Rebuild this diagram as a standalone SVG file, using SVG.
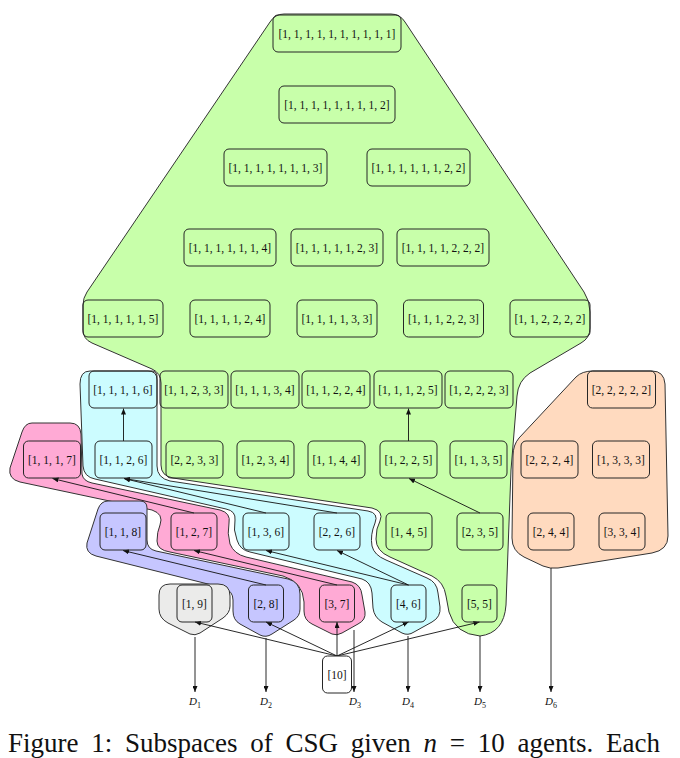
<svg xmlns="http://www.w3.org/2000/svg" width="680" height="758" viewBox="0 0 680 758">
<style>
.hull{stroke:#333;stroke-width:1;stroke-linejoin:round}
.g{fill:#c8ffaa}.c{fill:#ccfcff}.p{fill:#ffaad5}.b{fill:#c6c6ff}.o{fill:#ffdabf}.y{fill:#ebebea}
.n rect{fill:none;stroke:#262626;stroke-width:1}
.n text{font-family:"Liberation Serif","Times New Roman",serif;font-size:11.5px;text-anchor:middle;fill:#111}
.e path{fill:none;stroke:#111;stroke-width:0.9;marker-end:url(#ah)}
.d{font-family:"Liberation Serif","Times New Roman",serif;font-size:11px;font-style:italic;text-anchor:middle;fill:#111}
.d tspan{font-size:8px;font-style:normal}
.cap{font-family:"Liberation Serif","Times New Roman",serif;font-size:27px;fill:#111;word-spacing:6px}
</style>
<defs>
<marker id="ah" viewBox="0 0 6 5" refX="6" refY="2.5" markerWidth="6" markerHeight="5" markerUnits="userSpaceOnUse" orient="auto"><path d="M0,0 L6,2.5 L0,5 z" fill="#111"/></marker>
</defs>
<g id="hulls">
<path id="hull-green" class="hull g" d="M284,14 L391,14 Q400,14 405,22 L584,292 Q590,301 590,312 L590,328 Q590,338 581,343 L530,373 Q518,381 517,396 L511,470 L508,550 L506,605 Q504,633 480,636 Q455,634 449,612 L446,596 Q444,582 432,576 L390,557 Q376,551 376,539 Q376,528 380,521 Q384,511 372,508 L173,478 Q161,476 161,465 L161,383 Q161,373 152,369 L92,343 Q83,339 83,330 L83,305 Q83,298 87,292 L270,22 Q275,14 284,14 Z"/>
<path id="hull-peach" class="hull o" d="M593,371 L652,371 Q664,371 665,384 L668,536 Q668,550 652,553 L558,568 Q550,569 543,566 L524,557 Q512,551 512,538 L513,456 Q513,445 519,438 L576,377 Q582,371 593,371 Z"/>
<path id="hull-cyan" class="hull c" d="M90,371 L148,371 Q157,371 157,380 L157,466 Q157,478 170,481 L368,511 Q379,513 375,523 Q370,535 372,546 Q374,555 386,560 L427,578 Q437,582 438,593 L440,607 Q441,617 432,622 L414,632 Q408,636 402,633 L382,622 Q374,617 373,608 L372,593 Q371,582 362,579 L250,552 Q240,550 237,540 Q233,530 235,520 Q236,511 226,509 L95,479 Q84,477 83,466 L80,384 Q80,371 90,371 Z"/>
<path id="hull-pink" class="hull p" d="M32,423 L70,423 Q80,423 81,434 L82,474 Q83,481 92,483 L220,510 Q231,513 229,523 Q227,533 230,544 Q234,554 246,557 L352,582 Q361,585 362,595 L365,612 Q366,620 358,624 L342,633 Q337,636 332,634 L312,624 Q304,620 304,611 L304,602 Q303,582 283,576 L170,552 Q157,550 157,541 Q157,532 160,525 Q164,514 152,510 L20,482 Q8,479 10,468 L22,432 Q25,423 32,423 Z"/>
<path id="hull-blue" class="hull b" d="M108,501 L140,501 Q147,501 147,508 L147,540 Q147,549 156,551 L288,579 Q300,582 300,594 L300,609 Q300,616 294,620 L272,634 Q266,638 260,635 L240,624 Q233,620 233,611 L233,600 Q233,591 224,588 L96,556 Q85,553 87,543 L98,509 Q101,501 108,501 Z"/>
<path id="hull-gray" class="hull y" d="M170,584 L218,584 Q230,584 230,596 L230,606 Q230,613 223,618 L200,633 Q195,636 190,634 L168,623 Q159,618 159,609 L159,595 Q159,584 170,584 Z"/>
</g>
<g id="edges" class="e">
<path d="M123.5,441 L123.5,408.5"/>
<path d="M408.5,441 L408.5,408.5"/>
<path d="M480,513 L409,478.5"/>
<path d="M194,513 L52.5,478.5"/>
<path d="M266,513 L124,478.5"/>
<path d="M337,513 L124,478.5"/>
<path d="M266,585 L123,550.5"/>
<path d="M337,585 L194,550.5"/>
<path d="M408.5,585 L266,550.5"/>
<path d="M408.5,585 L337,550.5"/>
<path d="M337,656 L195,622"/>
<path d="M337,656 L266,622"/>
<path d="M337,656 L337,622"/>
<path d="M337,656 L408.5,622"/>
<path d="M337,656 L479.5,622"/>
<path d="M195,637 L195,692"/>
<path d="M266,638 L266,692"/>
<path d="M354,630 L354,692"/>
<path d="M408,636 L408,692"/>
<path d="M480,636 L480,692"/>
<path d="M551,568 L551,692"/>
</g>
<g id="nodes">
<g id="n1111111111" class="n"><rect x="273" y="15" width="128" height="37" rx="5"/><text x="337" y="37.5">[1, 1, 1, 1, 1, 1, 1, 1, 1, 1]</text></g>
<g id="n111111112" class="n"><rect x="279" y="86" width="116" height="37" rx="5"/><text x="337" y="108.5">[1, 1, 1, 1, 1, 1, 1, 1, 2]</text></g>
<g id="n11111113" class="n"><rect x="224" y="149" width="103" height="37" rx="5"/><text x="275.5" y="171.5">[1, 1, 1, 1, 1, 1, 1, 3]</text></g>
<g id="n11111122" class="n"><rect x="367" y="149" width="103" height="37" rx="5"/><text x="418.5" y="171.5">[1, 1, 1, 1, 1, 1, 2, 2]</text></g>
<g id="n1111114" class="n"><rect x="184" y="229" width="92" height="37" rx="5"/><text x="230" y="251.5">[1, 1, 1, 1, 1, 1, 4]</text></g>
<g id="n1111123" class="n"><rect x="291" y="229" width="92" height="37" rx="5"/><text x="337" y="251.5">[1, 1, 1, 1, 1, 2, 3]</text></g>
<g id="n1111222" class="n"><rect x="397" y="229" width="92" height="37" rx="5"/><text x="443" y="251.5">[1, 1, 1, 1, 2, 2, 2]</text></g>
<g id="n111115" class="n"><rect x="83" y="300" width="80" height="37" rx="5"/><text x="123" y="322.5">[1, 1, 1, 1, 1, 5]</text></g>
<g id="n111124" class="n"><rect x="190" y="300" width="80" height="37" rx="5"/><text x="230" y="322.5">[1, 1, 1, 1, 2, 4]</text></g>
<g id="n111133" class="n"><rect x="297" y="300" width="80" height="37" rx="5"/><text x="337" y="322.5">[1, 1, 1, 1, 3, 3]</text></g>
<g id="n111223" class="n"><rect x="403.5" y="300" width="80" height="37" rx="5"/><text x="443.5" y="322.5">[1, 1, 1, 2, 2, 3]</text></g>
<g id="n112222" class="n"><rect x="510" y="300" width="80" height="37" rx="5"/><text x="550" y="322.5">[1, 1, 2, 2, 2, 2]</text></g>
<g id="n11116" class="n"><rect x="89" y="371" width="68" height="37" rx="5"/><text x="123" y="393.5">[1, 1, 1, 1, 6]</text></g>
<g id="n11233" class="n"><rect x="160" y="371" width="68" height="37" rx="5"/><text x="194" y="393.5">[1, 1, 2, 3, 3]</text></g>
<g id="n11134" class="n"><rect x="231" y="371" width="68" height="37" rx="5"/><text x="265" y="393.5">[1, 1, 1, 3, 4]</text></g>
<g id="n11224" class="n"><rect x="302" y="371" width="68" height="37" rx="5"/><text x="336" y="393.5">[1, 1, 2, 2, 4]</text></g>
<g id="n11125" class="n"><rect x="374" y="371" width="68" height="37" rx="5"/><text x="408" y="393.5">[1, 1, 1, 2, 5]</text></g>
<g id="n12223" class="n"><rect x="445" y="371" width="68" height="37" rx="5"/><text x="479" y="393.5">[1, 2, 2, 2, 3]</text></g>
<g id="n22222" class="n"><rect x="587.5" y="371" width="68" height="37" rx="5"/><text x="621.5" y="393.5">[2, 2, 2, 2, 2]</text></g>
<g id="n1117" class="n"><rect x="23.5" y="441" width="57" height="37" rx="5"/><text x="52" y="463.5">[1, 1, 1, 7]</text></g>
<g id="n1126" class="n"><rect x="95" y="441" width="57" height="37" rx="5"/><text x="123.5" y="463.5">[1, 1, 2, 6]</text></g>
<g id="n2233" class="n"><rect x="166" y="441" width="57" height="37" rx="5"/><text x="194.5" y="463.5">[2, 2, 3, 3]</text></g>
<g id="n1234" class="n"><rect x="237" y="441" width="57" height="37" rx="5"/><text x="265.5" y="463.5">[1, 2, 3, 4]</text></g>
<g id="n1144" class="n"><rect x="308" y="441" width="57" height="37" rx="5"/><text x="336.5" y="463.5">[1, 1, 4, 4]</text></g>
<g id="n1225" class="n"><rect x="380" y="441" width="57" height="37" rx="5"/><text x="408.5" y="463.5">[1, 2, 2, 5]</text></g>
<g id="n1135" class="n"><rect x="450" y="441" width="57" height="37" rx="5"/><text x="478.5" y="463.5">[1, 1, 3, 5]</text></g>
<g id="n2224" class="n"><rect x="521" y="441" width="57" height="37" rx="5"/><text x="549.5" y="463.5">[2, 2, 2, 4]</text></g>
<g id="n1333" class="n"><rect x="592.5" y="441" width="57" height="37" rx="5"/><text x="621" y="463.5">[1, 3, 3, 3]</text></g>
<g id="n118" class="n"><rect x="100" y="513" width="46" height="37" rx="5"/><text x="123" y="535.5">[1, 1, 8]</text></g>
<g id="n127" class="n"><rect x="171" y="513" width="46" height="37" rx="5"/><text x="194" y="535.5">[1, 2, 7]</text></g>
<g id="n136" class="n"><rect x="243" y="513" width="46" height="37" rx="5"/><text x="266" y="535.5">[1, 3, 6]</text></g>
<g id="n226" class="n"><rect x="314" y="513" width="46" height="37" rx="5"/><text x="337" y="535.5">[2, 2, 6]</text></g>
<g id="n145" class="n"><rect x="386" y="513" width="46" height="37" rx="5"/><text x="409" y="535.5">[1, 4, 5]</text></g>
<g id="n235" class="n"><rect x="457" y="513" width="46" height="37" rx="5"/><text x="480" y="535.5">[2, 3, 5]</text></g>
<g id="n244" class="n"><rect x="528" y="513" width="46" height="37" rx="5"/><text x="551" y="535.5">[2, 4, 4]</text></g>
<g id="n334" class="n"><rect x="599" y="513" width="46" height="37" rx="5"/><text x="622" y="535.5">[3, 3, 4]</text></g>
<g id="n19" class="n"><rect x="177" y="585" width="35" height="37" rx="5"/><text x="194.5" y="607.5">[1, 9]</text></g>
<g id="n28" class="n"><rect x="248.5" y="585" width="35" height="37" rx="5"/><text x="266" y="607.5">[2, 8]</text></g>
<g id="n37" class="n"><rect x="319.5" y="585" width="35" height="37" rx="5"/><text x="337" y="607.5">[3, 7]</text></g>
<g id="n46" class="n"><rect x="391" y="585" width="35" height="37" rx="5"/><text x="408.5" y="607.5">[4, 6]</text></g>
<g id="n55" class="n"><rect x="462" y="585" width="35" height="37" rx="5"/><text x="479.5" y="607.5">[5, 5]</text></g>
<g id="n10" class="n"><rect x="322.5" y="656" width="29" height="37" rx="5" style="fill:#fff"/><text x="337" y="678.5">[10]</text></g>
</g>
<g id="labels">
<text class="d" x="195" y="705">D<tspan dy="2.5">1</tspan></text>
<text class="d" x="266" y="705">D<tspan dy="2.5">2</tspan></text>
<text class="d" x="355" y="705">D<tspan dy="2.5">3</tspan></text>
<text class="d" x="408" y="705">D<tspan dy="2.5">4</tspan></text>
<text class="d" x="480" y="705">D<tspan dy="2.5">5</tspan></text>
<text class="d" x="551" y="705">D<tspan dy="2.5">6</tspan></text>
</g>
<text class="cap" x="8" y="752">Figure 1: Subspaces of CSG given <tspan font-style="italic">n</tspan> = 10 agents. Each</text>
</svg>
